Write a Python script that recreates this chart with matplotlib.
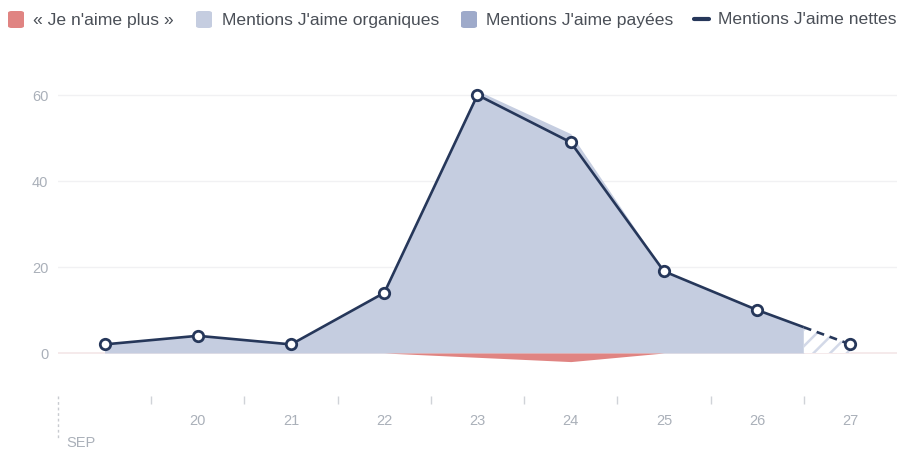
import numpy as np
import matplotlib
matplotlib.use("Agg")
import matplotlib.pyplot as plt
from matplotlib.patches import FancyBboxPatch
from matplotlib.lines import Line2D

days = [19, 20, 21, 22, 23, 24, 25, 26, 27]
organic = [2, 4, 2, 14, 61, 51, 19, 10, 2]
paid = [0, 0, 0, 0, 0, 0, 0, 0, 0]
unlikes = [0, 0, 0, 0, -1, -2, 0, 0, 0]
net = [2, 4, 2, 14, 60, 49, 19, 10, 2]
day_labels = ["20", "21", "22", "23", "24", "25", "26", "27"]
month_label = "SEP"
partial_from = 26.5
legend_labels = ["« Je n'aime plus »", "Mentions J'aime organiques",
                 "Mentions J'aime payées", "Mentions J'aime nettes"]

C_RED = "#e08482"
C_ORG = "#c5cde0"
C_PAID = "#9eaaca"
C_NET = "#26375a"
C_TXT = "#4a4f57"
C_TICK = "#aab0b9"

plt.rcParams['font.family'] = ['Liberation Sans', 'DejaVu Sans']
plt.rcParams['hatch.linewidth'] = 1.8

W, H = 899, 452
fig = plt.figure(figsize=(W / 100, H / 100), dpi=100)
ax_l, ax_r, ax_t, ax_b = 58, 897, 53, 397
ax = fig.add_axes([ax_l / W, 1 - ax_b / H, (ax_r - ax_l) / W, (ax_b - ax_t) / H])
ax.set_xlim(18.5, 27.5)
ax.set_ylim(-10, 70)

x = np.array(days, dtype=float)
org = np.array(organic, dtype=float)
pd_ = np.array(paid, dtype=float)
un = np.array(unlikes, dtype=float)
nt = np.array(net, dtype=float)

# split point for partial data
org_s = np.interp(partial_from, x, org)
net_s = np.interp(partial_from, x, nt)
m = x < partial_from
xa = np.append(x[m], partial_from)
oa = np.append(org[m], org_s)
na = np.append(nt[m], net_s)
xb = np.concatenate([[partial_from], x[~m]])
ob = np.concatenate([[org_s], org[~m]])
nb = np.concatenate([[net_s], nt[~m]])

# gridlines
for yv in [20, 40, 60]:
    ax.axhline(yv, color="#f1f1f3", lw=1.0, zorder=0)
ax.axhline(0, color="#f3e6e8", lw=1.2, zorder=0)

ax.fill_between(xa, 0, oa, color=C_ORG, lw=0, zorder=1)
ax.fill_between(xa, oa, oa + np.append(pd_[m], 0), color=C_PAID, lw=0, zorder=1)
ax.fill_between(x, 0, un, color=C_RED, lw=0, zorder=1)
ax.fill_between(xb, 0, ob, facecolor="white", edgecolor="#d3d9e8", hatch="//", lw=0, zorder=1)

ax.plot(xa, na, color=C_NET, lw=1.9, zorder=3, solid_capstyle="butt")
ax.plot(xb, nb, color=C_NET, lw=1.9, ls=(0, (3, 2.2)), zorder=3)
ax.plot(x, nt, ls="none", marker="o", ms=7.5, mfc="white", mec=C_NET, mew=2.0, zorder=4)

for s in ax.spines.values():
    s.set_visible(False)

ax.set_yticks([0, 20, 40, 60])
ax.set_yticklabels(["0", "20", "40", "60"])
ax.tick_params(axis="y", length=0, pad=7, labelsize=10.5, labelcolor=C_TICK)

ax.set_xticks(np.arange(19.5, 27.0, 1.0))
ax.set_xticklabels([])
ax.tick_params(axis="x", which="major", length=6, width=1, color="#d0d3d8", direction="out", pad=0)
ax.set_xticks([float(d) for d in days[1:]], minor=True)
ax.set_xticklabels(day_labels, minor=True)
ax.tick_params(axis="x", which="minor", length=0, pad=12, labelsize=10.5, labelcolor=C_TICK)

# dashed month separator and label
fig.add_artist(Line2D([ax_l / W, ax_l / W], [1 - 397 / H, 1 - 440 / H], color="#c8cbd0",
                      lw=1, ls=(0, (2, 2))))
fig.text(66 / W, 1 - 443 / H, month_label, fontsize=10.5, color=C_TICK, va="center", ha="left")

# legend
ly = 20
patch_x = [8, 196, 461]
text_x = [33, 222, 486, 718]
cols = [C_RED, C_ORG, C_PAID]
for px, c in zip(patch_x, cols):
    fig.add_artist(FancyBboxPatch((px / W, 1 - 29 / H), 16 / W, 17 / H,
                                  boxstyle="round,pad=0,rounding_size=0.004",
                                  facecolor=c, edgecolor="none", transform=fig.transFigure))
fig.add_artist(Line2D([694 / W, 709 / W], [1 - ly / H, 1 - ly / H], color=C_NET, lw=3,
                      solid_capstyle="round"))
for tx, lab in zip(text_x, legend_labels):
    fig.text(tx / W, 1 - ly / H, lab, fontsize=12.6, color=C_TXT, va="center", ha="left")

fig.savefig("out.png", dpi=100)
